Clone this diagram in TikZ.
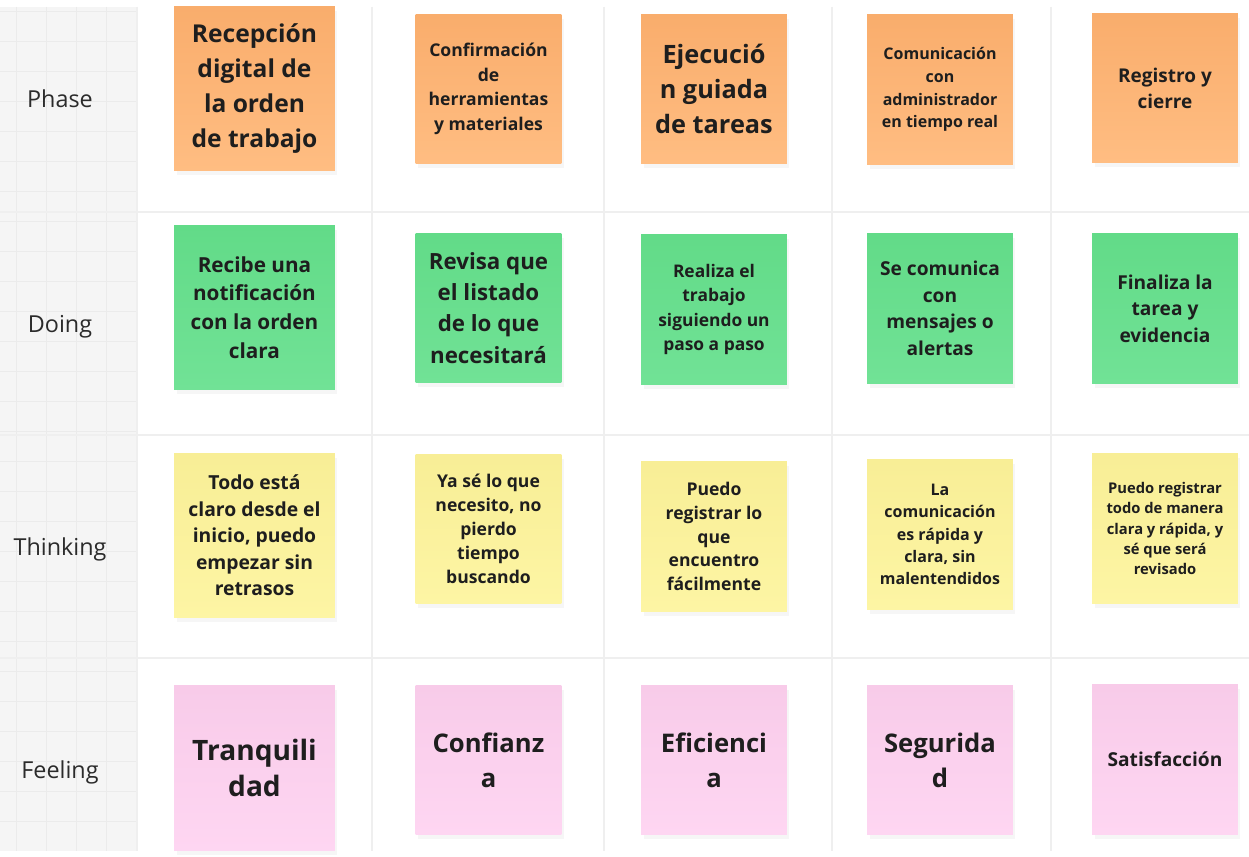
\documentclass[tikz,border=0pt]{standalone}
\usepackage{fontspec}
\setmainfont{Open Sans}
\usetikzlibrary{shadows}

\definecolor{paneGray}{HTML}{F5F5F5}
\definecolor{gridGray}{HTML}{EBEBEB}
\definecolor{sepGray}{HTML}{EFEFEF}
\definecolor{laneText}{HTML}{2B2B2B}
\definecolor{noteText}{HTML}{1E1E1E}
\definecolor{phaseTop}{HTML}{F9AD6C}
\definecolor{phaseBot}{HTML}{FFBD82}
\definecolor{doingTop}{HTML}{62DB88}
\definecolor{doingBot}{HTML}{71E296}
\definecolor{thinkTop}{HTML}{F8EE96}
\definecolor{thinkBot}{HTML}{FDF5A4}
\definecolor{feelTop}{HTML}{F8CBE9}
\definecolor{feelBot}{HTML}{FED6F2}

\begin{document}
\begin{tikzpicture}[
  x=0.02cm, y=-0.02cm,
  lane/.style={anchor=base, text=laneText,
               font=\fontsize{13.3}{16}\selectfont},
  note/.style={align=center, inner sep=0pt, text=noteText,
               minimum width=2.92cm, minimum height=3cm,
               drop shadow={shadow xshift=0.05cm, shadow yshift=-0.09cm,
                            opacity=0.07}},
  wide/.style={minimum width=3.22cm, minimum height=3.3cm},
  sz/.style 2 args={font=\bfseries\fontsize{#1}{#2}\selectfont},
  phase/.style={note, top color=phaseTop, bottom color=phaseBot},
  doing/.style={note, top color=doingTop, bottom color=doingBot},
  think/.style={note, top color=thinkTop, bottom color=thinkBot},
  feel/.style={note, top color=feelTop, bottom color=feelBot}
]
  \useasboundingbox[fill=white] (0,0) rectangle (1249,857);

  % lane header with grid
  \fill[paneGray] (0,7) rectangle (137,851);
  \foreach \gx in {16,46,...,106}
    \draw[gridGray, line width=0.5pt] (\gx,7) -- (\gx,851);
  \foreach \gy in {11.5,41.5,...,851}
    \draw[gridGray, line width=0.5pt] (0,\gy) -- (137,\gy);

  % board separators
  \foreach \sx in {137,372,604,832,1051}
    \draw[sepGray, line width=0.6pt] (\sx,7) -- (\sx,851);
  \foreach \sy in {212,435,658}
    \draw[sepGray, line width=0.6pt] (0,\sy) -- (1249,\sy);

  % lanes
  \node[lane] (phaseLbl) at (60,108) {Phase};
  \node[lane] (doingLbl) at (60,333) {Doing};
  \node[lane] (thinkLbl) at (60,556) {Thinking};
  \node[lane] (feelLbl)  at (60,779) {Feeling};

  % Phase
  \node[phase, wide, sz={14}{19.8}] (p1) at (254.5,88.5)
    {Recepción\\digital de\\la orden\\de trabajo};
  \node[phase, sz={10}{13.9}] (p2) at (488.5,89)
    {Confirmación\\de\\herramientas\\y materiales};
  \node[phase, sz={14.4}{20.1}] (p3) at (714,89)
    {Ejecució\\n guiada\\de tareas};
  \node[phase, sz={9.1}{12.9}] (p4) at (940,89.5)
    {Comunicación\\con\\administrador\\en tiempo real};
  \node[phase, sz={10.8}{14.7}] (p5) at (1165,88)
    {Registro y\\cierre};

  % Doing
  \node[doing, wide, sz={11.8}{16.4}] (d1) at (254.5,307.5)
    {Recibe una\\notificación\\con la orden\\clara};
  \node[doing, sz={12.7}{17.7}] (d2) at (488.5,308)
    {Revisa que\\el listado\\de lo que\\necesitará};
  \node[doing, sz={9.9}{14}] (d3) at (714,309.5)
    {Realiza el\\trabajo\\siguiendo un\\paso a paso};
  \node[doing, sz={10.9}{15.1}] (d4) at (940,308.5)
    {Se comunica\\con\\mensajes o\\alertas};
  \node[doing, sz={10.9}{15.1}] (d5) at (1165,308.5)
    {Finaliza la\\tarea y\\evidencia};

  % Thinking
  \node[think, wide, sz={11}{15.1}] (t1) at (254.5,535.5)
    {Todo está\\claro desde el\\inicio, puedo\\empezar sin\\retrasos};
  \node[think, sz={10}{13.6}] (t2) at (488.5,529)
    {Ya sé lo que\\necesito, no\\pierdo\\tiempo\\buscando};
  \node[think, sz={10}{13.6}] (t3) at (714,536.5)
    {Puedo\\registrar lo\\que\\encuentro\\fácilmente};
  \node[think, sz={9.1}{12.75}] (t4) at (940,534.5)
    {La\\comunicación\\es rápida y\\clara, sin\\malentendidos};
  \node[think, sz={8.4}{11.6}] (t5) at (1165,528.5)
    {Puedo registrar\\todo de manera\\clara y rápida, y\\sé que será\\revisado};

  % Feeling
  \node[feel, wide, sz={16}{21}] (f1) at (254.5,768) {Tranquili\\dad};
  \node[feel, sz={14.6}{19.8}] (f2) at (488.5,760) {Confianz\\a};
  \node[feel, sz={14.6}{19.8}] (f3) at (714,760) {Eficienci\\a};
  \node[feel, sz={14.6}{19.8}] (f4) at (940,760) {Segurida\\d};
  \node[feel, sz={10.9}{15}] (f5) at (1165,759.5) {Satisfacción};
\end{tikzpicture}
\end{document}
